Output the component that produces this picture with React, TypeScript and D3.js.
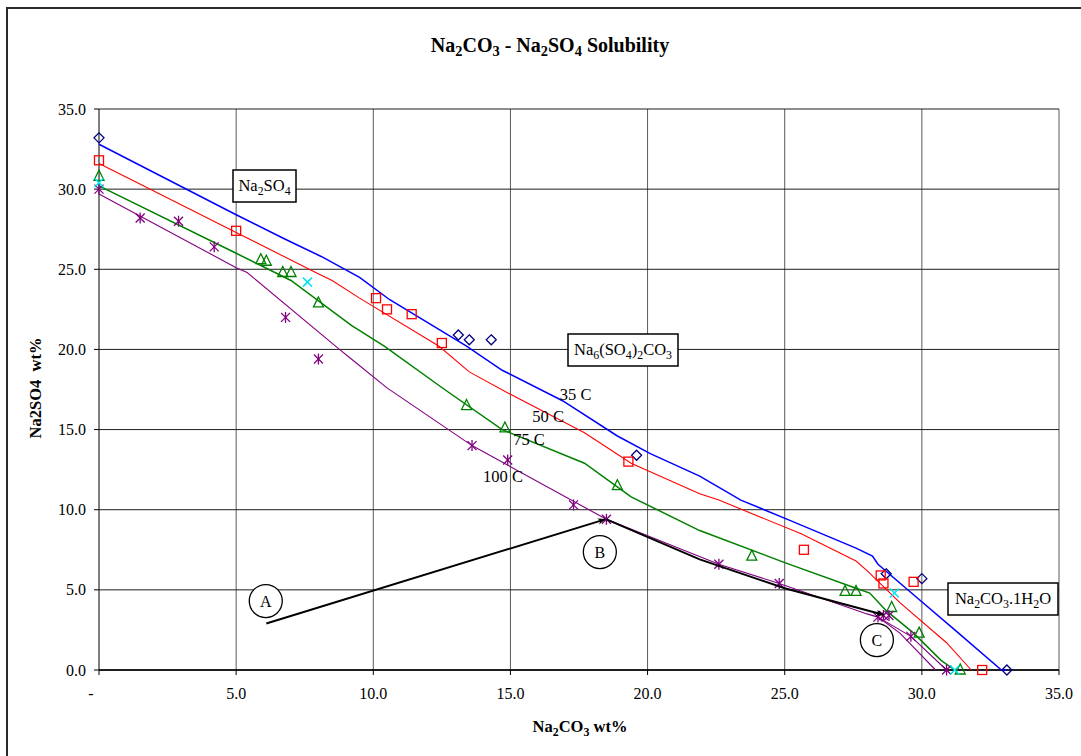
import React from "react";
import * as d3 from "d3";

type P = [number, number];

// ---- Model curves (lines) ----
const line35: P[] = [[0,32.8],[5.0,28.4],[6.7,26.95],[7.0,26.7],[8.1,25.8],[9.5,24.5],[10.6,23.1],[13.4,20.2],[14.7,18.7],[16.9,16.8],[18.9,14.6],[20.1,13.5],[21.9,12.1],[23.4,10.6],[25.1,9.4],[27.6,7.6],[28.2,7.1],[28.4,6.6],[29.9,4.4],[31.2,2.5],[32.9,0],[33.1,0]];
const line50: P[] = [[0,31.6],[1.4,30.4],[5.0,27.3],[7.9,24.8],[8.5,24.3],[9.5,23.2],[12.4,20.2],[13.5,18.6],[15.0,17.2],[17.7,14.8],[19.4,12.9],[21.9,11.0],[22.6,10.6],[25.6,8.5],[27.6,6.8],[28.0,6.2],[29.2,4.2],[30.9,1.7],[31.8,0]];
const line75: P[] = [[0,30.2],[5.0,26.0],[7.0,24.3],[9.2,21.5],[10.4,20.2],[12.6,17.5],[14.7,15.0],[17.7,12.9],[19.4,10.8],[21.9,8.7],[25.0,6.7],[27.6,5.1],[28.1,4.8],[28.7,3.7],[29.7,2.3],[30.7,0.6],[31.2,0]];
const line100: P[] = [[0,29.7],[5.0,25.1],[5.4,24.8],[8.7,20.1],[9.2,19.4],[10.5,17.6],[13.6,14.0],[18.5,9.4],[22.6,6.6],[24.8,5.4],[28.0,3.5],[28.4,3.3],[29.2,2.3],[30.5,0]];
const line100b: P[] = [[28.4,3.3],[29.6,2.1],[30.9,0]];

// ---- Measured points ----
const diamonds35: P[] = [[0,33.2],[13.1,20.9],[13.5,20.6],[14.3,20.6],[19.6,13.4],[28.7,6.0],[30.0,5.7],[33.1,0]];
const squares50: P[] = [[0,31.8],[5.0,27.4],[10.1,23.2],[10.5,22.5],[11.4,22.2],[12.5,20.4],[19.3,13.0],[25.7,7.5],[28.5,5.9],[28.6,5.4],[29.7,5.5],[32.2,0]];
const triangles75: P[] = [[0,30.8],[5.9,25.6],[6.1,25.5],[6.7,24.8],[7.0,24.8],[8.0,22.9],[13.4,16.5],[14.8,15.1],[18.9,11.5],[23.8,7.1],[27.2,4.9],[27.6,4.9],[28.9,3.9],[29.9,2.3],[31.4,0]];
const stars100: P[] = [[0,30.0],[1.5,28.2],[2.9,28.0],[4.2,26.4],[6.8,22.0],[8.0,19.4],[13.6,14.0],[14.9,13.1],[17.3,10.3],[18.5,9.4],[22.6,6.6],[24.8,5.4],[28.4,3.3],[28.6,3.4],[28.8,3.4],[29.6,2.1],[30.9,0]];
const crosses: P[] = [[0,30.4],[7.6,24.2],[29.0,4.8],[31.2,0]];

// ---- Annotations ----
const arrowAB: P[] = [[6.1,2.9],[18.45,9.4]];
const arrowBC: P[] = [[18.5,9.4],[21.9,6.9],[25.0,5.1],[28.6,3.45]];
const circleLabels: { t: string; p: P }[] = [
  { t: "A", p: [6.08, 4.3] },
  { t: "B", p: [18.26, 7.36] },
  { t: "C", p: [28.36, 1.87] },
];
const tempLabels: { t: string; p: P }[] = [
  { t: "35 C", p: [16.8, 16.84] },
  { t: "50 C", p: [15.8, 15.5] },
  { t: "75 C", p: [15.1, 14.05] },
  { t: "100 C", p: [14.0, 11.75] },
];

const xTicks = [0, 5, 10, 15, 20, 25, 30, 35];
const yTicks = [0, 5, 10, 15, 20, 25, 30, 35];

const W = 1081, H = 756;
const L = 99, R = 1059, T = 109, B = 670;

const x = d3.scaleLinear().domain([0, 35]).range([L, R]);
const y = d3.scaleLinear().domain([0, 35]).range([B, T]);
const lineGen = d3.line<P>().x(d => x(d[0])).y(d => y(d[1]));

const serif = "Liberation Serif";

function Sub({ children }: { children: string }) {
  return <tspan dy={4} fontSize="0.72em">{children}</tspan>;
}

export default function App() {
  const fmt = (v: number) => (v === 0 ? "" : v.toFixed(1));
  return (
    <svg width={W} height={H} style={{ position: "absolute", left: 0, top: 0, background: "#fff", fontFamily: serif }}>
      <defs>
        <marker id="ah" viewBox="0 0 10 10" refX="9" refY="5" markerWidth="8" markerHeight="8" orient="auto" markerUnits="userSpaceOnUse">
          <path d="M0,1 L10,5 L0,9 L3,5 Z" fill="#000" />
        </marker>
      </defs>
      <rect x={0} y={0} width={W} height={H} fill="#fff" />
      <rect x={7} y={8} width={1200} height={900} fill="none" stroke="#2a2a2a" strokeWidth={2} />

      {/* title */}
      <text x={550} y={52} textAnchor="middle" fontWeight="bold" fontSize={20}>
        Na<Sub>2</Sub><tspan dy={-4}>CO</tspan><Sub>3</Sub><tspan dy={-4}>{"\u00a0- Na"}</tspan><Sub>2</Sub><tspan dy={-4}>SO</tspan><Sub>4</Sub><tspan dy={-4}>{"\u00a0Solubility"}</tspan>
      </text>

      {/* grid */}
      {xTicks.map(t => (
        <line key={"gx" + t} x1={x(t)} x2={x(t)} y1={T} y2={B} stroke={t === 0 ? "#000" : "#5a5a5a"} strokeWidth={1} />
      ))}
      {yTicks.map(t => (
        <line key={"gy" + t} x1={L} x2={R} y1={y(t)} y2={y(t)} stroke={t === 0 ? "#000" : "#1e1e1e"} strokeWidth={1} />
      ))}
      <line x1={L} x2={R} y1={B} y2={B} stroke="#000" strokeWidth={1.3} />
      {/* ticks */}
      {yTicks.map(t => (
        <line key={"ty" + t} x1={L - 5} x2={L} y1={y(t)} y2={y(t)} stroke="#000" />
      ))}
      {xTicks.map(t => (
        <line key={"tx" + t} x1={x(t)} x2={x(t)} y1={B} y2={B + 5} stroke="#000" />
      ))}
      {yTicks.map(t => (
        <text key={"ly" + t} x={86} y={y(t) + 5.5} textAnchor="end" fontSize={16}>{t.toFixed(1)}</text>
      ))}
      {xTicks.map(t => (
        <text key={"lx" + t} x={t === 0 ? x(t) - 8 : x(t)} y={699} textAnchor="middle" fontSize={16}>{t === 0 ? "-" : fmt(t)}</text>
      ))}

      {/* axis titles */}
      <text x={580} y={732} textAnchor="middle" fontWeight="bold" fontSize={16.5}>
        Na<Sub>2</Sub><tspan dy={-4}>CO</tspan><Sub>3</Sub><tspan dy={-4}>{"\u00a0wt%"}</tspan>
      </text>
      <text transform="translate(41,388) rotate(-90)" textAnchor="middle" fontWeight="bold" fontSize={16.5}>
        {"Na2SO4\u00a0\u00a0wt%"}
      </text>

      {/* curves */}
      <path d={lineGen(line35)!} fill="none" stroke="#0000ff" strokeWidth={1.5} />
      <path d={lineGen(line50)!} fill="none" stroke="#ff0000" strokeWidth={1.1} />
      <path d={lineGen(line75)!} fill="none" stroke="#008000" strokeWidth={1.5} />
      <path d={lineGen(line100)!} fill="none" stroke="#800080" strokeWidth={1.1} />
      <path d={lineGen(line100b)!} fill="none" stroke="#800080" strokeWidth={1.1} />

      {/* markers */}
      {diamonds35.map((d, i) => (
        <path key={"d" + i} d={`M${x(d[0])},${y(d[1]) - 5}L${x(d[0]) + 5},${y(d[1])}L${x(d[0])},${y(d[1]) + 5}L${x(d[0]) - 5},${y(d[1])}Z`} fill="none" stroke="#000080" strokeWidth={1.3} />
      ))}
      {squares50.map((d, i) => (
        <rect key={"s" + i} x={x(d[0]) - 4.5} y={y(d[1]) - 4.5} width={9} height={9} fill="none" stroke="#ff0000" strokeWidth={1.3} />
      ))}
      {triangles75.map((d, i) => (
        <path key={"t" + i} d={`M${x(d[0])},${y(d[1]) - 6}L${x(d[0]) + 5},${y(d[1]) + 4}L${x(d[0]) - 5},${y(d[1]) + 4}Z`} fill="none" stroke="#008000" strokeWidth={1.3} />
      ))}
      {stars100.map((d, i) => {
        const cx = x(d[0]), cy = y(d[1]);
        return (
          <g key={"a" + i} stroke="#800080" strokeWidth={1.3}>
            <line x1={cx - 4.5} y1={cy - 4.5} x2={cx + 4.5} y2={cy + 4.5} />
            <line x1={cx - 4.5} y1={cy + 4.5} x2={cx + 4.5} y2={cy - 4.5} />
            <line x1={cx} y1={cy - 5.5} x2={cx} y2={cy + 5.5} />
          </g>
        );
      })}
      {crosses.map((d, i) => {
        const cx = x(d[0]), cy = y(d[1]);
        return (
          <g key={"c" + i} stroke="#00e5ee" strokeWidth={1.5}>
            <line x1={cx - 4.5} y1={cy - 4.5} x2={cx + 4.5} y2={cy + 4.5} />
            <line x1={cx - 4.5} y1={cy + 4.5} x2={cx + 4.5} y2={cy - 4.5} />
          </g>
        );
      })}

      {/* arrows */}
      <path d={lineGen(arrowAB)!} fill="none" stroke="#000" strokeWidth={2} markerEnd="url(#ah)" />
      <path d={lineGen(arrowBC)!} fill="none" stroke="#000" strokeWidth={2} markerEnd="url(#ah)" />

      {/* circle labels */}
      {circleLabels.map(c => (
        <g key={c.t}>
          <circle cx={x(c.p[0])} cy={y(c.p[1])} r={16.5} fill="#fff" stroke="#000" strokeWidth={1.3} />
          <text x={x(c.p[0])} y={y(c.p[1]) + 5.5} textAnchor="middle" fontSize={16}>{c.t}</text>
        </g>
      ))}

      {/* temperature labels */}
      {tempLabels.map(c => (
        <text key={c.t} x={x(c.p[0])} y={y(c.p[1])} fontSize={16.5}>{c.t}</text>
      ))}

      {/* boxes */}
      <g>
        <rect x={233} y={170} width={63} height={32} fill="#fff" stroke="#000" strokeWidth={1.5} />
        <text x={264.5} y={191} textAnchor="middle" fontSize={16.5}>
          Na<Sub>2</Sub><tspan dy={-4}>SO</tspan><Sub>4</Sub>
        </text>
      </g>
      <g>
        <rect x={568} y={334} width={110} height={32} fill="#fff" stroke="#000" strokeWidth={1.5} />
        <text x={623} y={355} textAnchor="middle" fontSize={16.5}>
          Na<Sub>6</Sub><tspan dy={-4}>(SO</tspan><Sub>4</Sub><tspan dy={-4}>)</tspan><Sub>2</Sub><tspan dy={-4}>CO</tspan><Sub>3</Sub>
        </text>
      </g>
      <g>
        <rect x={948} y={583} width={110} height={32} fill="#fff" stroke="#000" strokeWidth={1.5} />
        <text x={1003} y={604} textAnchor="middle" fontSize={16.5}>
          Na<Sub>2</Sub><tspan dy={-4}>CO</tspan><Sub>3</Sub><tspan dy={-4}>.1H</tspan><Sub>2</Sub><tspan dy={-4}>O</tspan>
        </text>
      </g>
    </svg>
  );
}
